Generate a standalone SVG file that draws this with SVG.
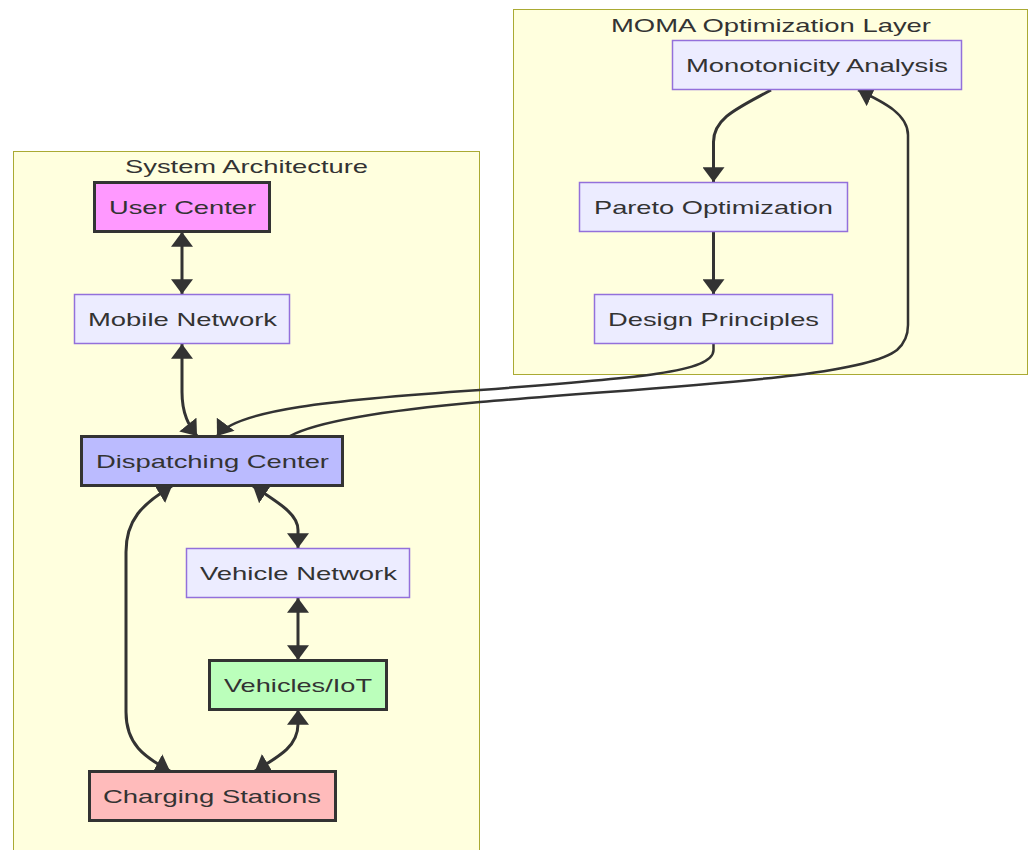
<svg xmlns="http://www.w3.org/2000/svg" width="1034" height="850" viewBox="0 0 1034 850">
<style>
.cluster{fill:#ffffde;stroke:#aaaa33;stroke-width:1}
.ctitle{font-family:"Liberation Sans",Arial,sans-serif;font-size:19px;fill:#333;text-anchor:middle}
.node{fill:#ececff;stroke:#9370db;stroke-width:1.5}
.hl{stroke:#333;stroke-width:3}
.lbl{font-family:"Liberation Sans",Arial,sans-serif;font-size:19px;fill:#333;text-anchor:middle}
.edge{fill:none;stroke:#333;stroke-width:3}
.thin{stroke-width:2.5}
</style>
<defs>
<marker id="arr" markerUnits="userSpaceOnUse" markerWidth="16" markerHeight="22" refX="14" refY="10.5" orient="auto-start-reverse" viewBox="0 0 15 21">
<path d="M0,0 L14,10.5 L0,21 z" fill="#333"/>
</marker>
</defs>
<rect width="1034" height="850" fill="#ffffff"/>
<g id="cluster-system">
<rect class="cluster" x="13.5" y="151.5" width="466" height="720"/>
<text class="ctitle" x="246.5" y="173" textLength="243" lengthAdjust="spacingAndGlyphs">System Architecture</text>
</g>
<g id="cluster-moma">
<rect class="cluster" x="513.5" y="9.5" width="514" height="365"/>
<text class="ctitle" x="771" y="32" textLength="320" lengthAdjust="spacingAndGlyphs">MOMA Optimization Layer</text>
</g>
<g id="connectors">
<path class="edge" d="M182,232 L182,294" marker-start="url(#arr)" marker-end="url(#arr)"/>
<path class="edge" d="M182,344 L182,392 C182,414 189,426 197,436" marker-start="url(#arr)" marker-end="url(#arr)"/>
<path class="edge" d="M172,486 C142,504 126,520 126,552 L126,712 C126,744 144,757 170,771" marker-start="url(#arr)" marker-end="url(#arr)"/>
<path class="edge" d="M253,486 C280,504 298,514 298,530 L298,548" marker-start="url(#arr)" marker-end="url(#arr)"/>
<path class="edge" d="M298,598 L298,660" marker-start="url(#arr)" marker-end="url(#arr)"/>
<path class="edge" d="M298,710 L298,724 C298,746 280,756 255,771" marker-start="url(#arr)" marker-end="url(#arr)"/>
<path class="edge" d="M771,90 C738,108 713.5,118 713.5,142 L713.5,182" marker-end="url(#arr)"/>
<path class="edge" d="M713.5,232 L713.5,294" marker-end="url(#arr)"/>
<path class="edge thin" d="M713.5,344 L713.5,350 C713.5,372 640,378 480,390 C330,400 236,410 217,436" marker-end="url(#arr)"/>
<path class="edge thin" d="M290,436 C320,420 390,410 480,402 C680,385 862,378 897,350 C905,343 908,335 908,325 L908,135 C908,115 886,103 858,90" marker-end="url(#arr)"/>
</g>
<g id="node-user-center">
<rect class="hl" x="94.5" y="182.5" width="175" height="49" fill="#ff99ff"/>
<text class="lbl" x="182.5" y="214" textLength="147" lengthAdjust="spacingAndGlyphs">User Center</text>
</g>
<g id="node-mobile-network">
<rect class="node" x="74.5" y="294.5" width="215" height="49"/>
<text class="lbl" x="182.5" y="326" textLength="189" lengthAdjust="spacingAndGlyphs">Mobile Network</text>
</g>
<g id="node-dispatching-center">
<rect class="hl" x="81.5" y="436.5" width="261" height="49" fill="#bbbbff"/>
<text class="lbl" x="212.5" y="468" textLength="233" lengthAdjust="spacingAndGlyphs">Dispatching Center</text>
</g>
<g id="node-vehicle-network">
<rect class="node" x="186.5" y="548.5" width="223" height="49"/>
<text class="lbl" x="298.5" y="580" textLength="197" lengthAdjust="spacingAndGlyphs">Vehicle Network</text>
</g>
<g id="node-vehicles-iot">
<rect class="hl" x="209.5" y="660.5" width="177" height="49" fill="#bbffbb"/>
<text class="lbl" x="298" y="692" textLength="148" lengthAdjust="spacingAndGlyphs">Vehicles/IoT</text>
</g>
<g id="node-charging-stations">
<rect class="hl" x="89.5" y="771.5" width="246" height="49" fill="#ffbbbb"/>
<text class="lbl" x="212" y="803" textLength="218" lengthAdjust="spacingAndGlyphs">Charging Stations</text>
</g>
<g id="node-monotonicity">
<rect class="node" x="672.5" y="40.5" width="289" height="49"/>
<text class="lbl" x="817" y="72" textLength="262" lengthAdjust="spacingAndGlyphs">Monotonicity Analysis</text>
</g>
<g id="node-pareto">
<rect class="node" x="579.5" y="182.5" width="268" height="49"/>
<text class="lbl" x="713.5" y="214" textLength="239" lengthAdjust="spacingAndGlyphs">Pareto Optimization</text>
</g>
<g id="node-design">
<rect class="node" x="594.5" y="294.5" width="238" height="49"/>
<text class="lbl" x="713.5" y="326" textLength="211" lengthAdjust="spacingAndGlyphs">Design Principles</text>
</g>
</svg>
